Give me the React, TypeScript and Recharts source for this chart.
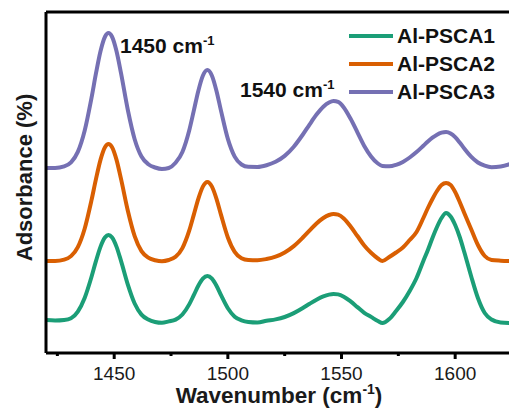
import React from "react";
import { LineChart, Line, XAxis, YAxis, Legend } from "recharts";

const wavenumbers = [
  1420, 1424, 1428, 1431, 1434, 1437, 1440, 1442, 1444, 1446,
  1447.5, 1449, 1451, 1453, 1456, 1459, 1462, 1465, 1468, 1471,
  1474, 1477, 1480, 1483, 1485, 1487, 1489, 1491, 1493, 1495,
  1497, 1500, 1503, 1506, 1509, 1513, 1517, 1521, 1525, 1529,
  1533, 1536, 1539, 1542, 1544.5, 1546.5, 1548.5, 1551, 1554, 1557,
  1560, 1563, 1566, 1568, 1571, 1574, 1577, 1580, 1583, 1586,
  1588, 1590, 1592, 1594, 1596, 1598, 1600, 1602, 1604, 1607,
  1610, 1613, 1616, 1620, 1625,
];

// offset spectra (arbitrary absorbance units)
const psca1 = [
  33, 32.5, 33, 34.7, 41.4, 55, 76, 92.1, 106.4, 115.7,
  118, 115.7, 106.4, 92.1, 68.4, 49.5, 38.4, 33.4, 31, 30.2,
  31.6, 33.4, 38.5, 48.6, 57.8, 67.2, 74.3, 77, 74.3, 67.2,
  57.8, 44.7, 36.3, 32.6, 31, 30.5, 32.2, 33.6, 36, 39.9,
  45, 49.3, 53.3, 56.6, 58.4, 59, 58.6, 56.3, 51.6, 45.9,
  40.2, 36.1, 32, 30, 34, 42, 51, 62, 75, 92,
  103, 115, 126, 135, 140, 136.5, 128, 116, 101, 77,
  55, 40, 33.5, 30.5, 30,
];

const psca2 = [
  92, 92, 93.4, 96.9, 105.9, 124.3, 152.6, 174.1, 193.4, 206,
  209, 206, 193.4, 174.1, 142.3, 116.9, 101.9, 95.3, 92.8, 91.8,
  93, 96.2, 104.9, 122.3, 138.1, 154.2, 166.4, 171, 166.4, 154.2,
  138.1, 115.5, 101.2, 94.8, 93, 92.8, 94, 96.3, 100.5, 106.9,
  115.5, 122.6, 129.5, 135, 138, 139, 138.3, 134.5, 126.5, 117,
  107.5, 100.2, 94.5, 92, 96, 100.5, 105.5, 113, 121, 135,
  145, 154, 162, 168, 170, 168, 161, 151, 140, 124,
  108, 97, 93, 92.3, 92,
];

const psca3 = [
  185, 185, 186.6, 190.7, 201.1, 222.3, 254.9, 279.8, 302, 316.5,
  320, 316.5, 302, 279.8, 243, 213.8, 196.5, 188.8, 185.5, 184,
  185, 190.2, 201, 222.5, 242.1, 262.1, 277.3, 283, 277.3, 262.1,
  242.1, 214.1, 196.4, 188.5, 186.2, 186.1, 187.8, 191.2, 197.1, 206.3,
  218.5, 228.7, 238.4, 246.3, 250.5, 252, 251.1, 245.6, 234.2, 220.7,
  207.1, 196.6, 189.5, 187.1, 186.7, 188.2, 191.1, 195.5, 200.9, 207.2,
  211.5, 215.3, 218.3, 220.3, 221, 219.6, 215.9, 210.5, 204.5, 196.3,
  190.5, 187.3, 185.8, 186.5, 189.5,
];

const seriesNames = ["Al-PSCA1", "Al-PSCA2", "Al-PSCA3"];
const seriesColors = ["#1b9e77", "#d95f02", "#7570b3"];
const xTicks = [1425, 1450, 1475, 1500, 1525, 1550, 1575, 1600, 1625];

const FONT = '"Liberation Sans", Arial, sans-serif';

const data = wavenumbers.map((w, i) => ({
  w,
  a1: psca1[i],
  a2: psca2[i],
  a3: psca3[i],
}));

const AxisTick = (props: any) => {
  const { x, y, payload } = props;
  const major = payload.value % 50 === 0;
  return (
    <g>
      <line x1={x} x2={x} y1={y} y2={y + (major ? 6 : 3)} stroke="#000" strokeWidth={3} />
      {major && (
        <text x={x} y={y + 27} textAnchor="middle" fontFamily={FONT} fontSize={19} fill="#1a1a1a">
          {payload.value}
        </text>
      )}
    </g>
  );
};

const LegendBox = (props: any) => {
  const items = props.payload || [];
  return (
    <div style={{ fontFamily: FONT, fontWeight: 700, fontSize: 21, color: "#111" }}>
      {items.map((p: any) => (
        <div key={p.value} style={{ display: "flex", alignItems: "center", height: 28 }}>
          <svg width={44} height={6}>
            <line x1={0} x2={44} y1={3} y2={3} stroke={p.color} strokeWidth={4} />
          </svg>
          <span style={{ marginLeft: 4 }}>{p.value}</span>
        </div>
      ))}
    </div>
  );
};

export default function App() {
  return (
    <div style={{ position: "fixed", left: 0, top: 0, width: 509, height: 416, overflow: "hidden", background: "#fff" }}>
      <LineChart width={520} height={416} data={data} margin={{ top: 11, right: 8, bottom: 0, left: 45 }}>
        <XAxis
          dataKey="w"
          type="number"
          domain={[1420, 1625]}
          allowDataOverflow
          ticks={xTicks}
          interval={0}
          height={63}
          tickSize={0}
          tickMargin={0}
          tickLine={false}
          tick={<AxisTick />}
          axisLine={{ stroke: "#000", strokeWidth: 3 }}
          label={{
            content: (p: any) => {
              const vb = p.viewBox || { x: 46, y: 353, width: 466 };
              return (
                <text
                  x={vb.x + vb.width / 2}
                  y={vb.y + 50}
                  textAnchor="middle"
                  fontFamily={FONT}
                  fontWeight={700}
                  fontSize={22.5}
                  fill="#1a1a1a"
                >
                  Wavenumber (cm
                  <tspan dy={-9} fontSize={14}>-1</tspan>
                  <tspan dy={9}>)</tspan>
                </text>
              );
            },
          }}
        />
        <XAxis
          xAxisId="top"
          orientation="top"
          type="number"
          domain={[1420, 1625]}
          height={1}
          tick={false}
          tickLine={false}
          axisLine={{ stroke: "#000", strokeWidth: 3 }}
        />
        <YAxis
          type="number"
          domain={[0, 341]}
          width={1}
          tick={false}
          tickLine={false}
          axisLine={{ stroke: "#000", strokeWidth: 3 }}
          label={{
            content: (p: any) => {
              const vb = p.viewBox || { x: 45, y: 12, width: 1, height: 341 };
              const cx = vb.x + vb.width - 22;
              const cy = vb.y + vb.height / 2 - 5;
              return (
                <text
                  x={cx}
                  y={cy}
                  transform={`rotate(-90, ${cx}, ${cy})`}
                  textAnchor="middle"
                  dominantBaseline="central"
                  fontFamily={FONT}
                  fontWeight={700}
                  fontSize={22}
                  fill="#1a1a1a"
                >
                  Adsorbance (%)
                </text>
              );
            },
          }}
        />
        <Legend
          layout="vertical"
          align="center"
          verticalAlign="middle"
          content={<LegendBox />}
          wrapperStyle={{ top: 22, left: 349, width: 170 }}
        />
        <Line type="monotone" dataKey="a1" name={seriesNames[0]} stroke={seriesColors[0]} strokeWidth={4} dot={false} isAnimationActive={false} />
        <Line type="monotone" dataKey="a2" name={seriesNames[1]} stroke={seriesColors[1]} strokeWidth={4} dot={false} isAnimationActive={false} />
        <Line type="monotone" dataKey="a3" name={seriesNames[2]} stroke={seriesColors[2]} strokeWidth={4} dot={false} isAnimationActive={false} />
      </LineChart>
      <svg width={509} height={416} style={{ position: "absolute", left: 0, top: 0, pointerEvents: "none" }}>
        <g fontFamily={FONT} fontWeight={700} fontSize={21} fill="#111">
          <text x={120} y={53}>
            1450 cm<tspan dy={-8} fontSize={13}>-1</tspan>
          </text>
          <text x={240} y={97}>
            1540 cm<tspan dy={-8} fontSize={13}>-1</tspan>
          </text>
        </g>
      </svg>
    </div>
  );
}
